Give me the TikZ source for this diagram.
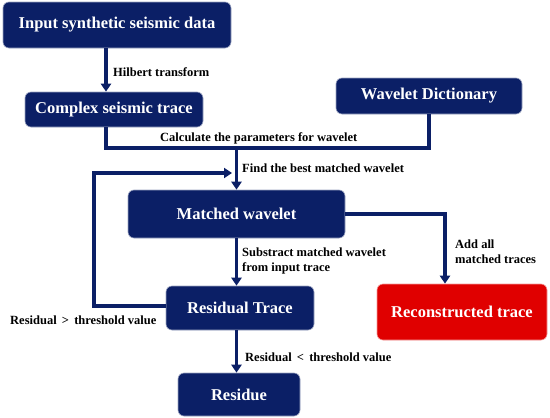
\documentclass[tikz,border=0pt]{standalone}
\usepackage{fontspec}
\setmainfont{Liberation Serif}
\usetikzlibrary{arrows.meta,positioning}
\definecolor{boxnavy}{HTML}{0B1F66}
\definecolor{boxred}{HTML}{E00000}

\begin{document}
\begin{tikzpicture}[x=1pt,y=-1pt,>={Triangle[width=10pt,length=8pt]},
  font=\bfseries,
  stepbox/.style={fill=boxnavy,draw=boxnavy!40,line width=0.6pt,rounded corners=6pt,
    text=white,font=\fontsize{16.5}{18}\selectfont\bfseries,inner sep=0pt},
  flow/.style={draw=boxnavy,line width=3.6pt},
  lbl/.style={font=\fontsize{12.5}{15}\selectfont\bfseries,align=left,inner sep=0pt}]
  \useasboundingbox (0,0) rectangle (550,418);

  % Boxes
  \node[stepbox,minimum width=228pt,minimum height=46pt] (input) at (117,25)
    {Input synthetic seismic data};
  \node[stepbox,minimum width=178pt,minimum height=35pt] (complex) at (114,109.5)
    {Complex seismic trace};
  \node[stepbox,minimum width=186pt,minimum height=36pt] (dict) at (429,96)
    {Wavelet Dictionary};
  \node[stepbox,minimum width=217pt,minimum height=48pt] (matched) at (236.5,214)
    {Matched wavelet};
  \node[stepbox,minimum width=148pt,minimum height=44pt] (residual) at (240,308)
    {Residual Trace};
  \node[stepbox,fill=boxred,draw=boxred!40,minimum width=170pt,minimum height=56pt]
    (recon) at (462,312) {Reconstructed trace};
  \node[stepbox,minimum width=122pt,minimum height=43pt] (residue) at (239,394.5)
    {Residue};

  % Junction points
  \coordinate (hx) at (106,0);
  \coordinate (calc) at (236.5,148);
  \coordinate (loopl) at (94,306);
  \coordinate (loopt) at (94,173);
  \coordinate (addx) at (445,0);

  % Connectors
  \draw[flow,->] (input.south -| hx) -- (complex.north -| hx);
  \draw[flow] (complex.south -| hx) |- (calc) -| (dict.south);
  \draw[flow,->] (calc) -- (matched.north -| calc);
  \draw[flow,->] (residual.west |- loopl) -- (loopl) -- (loopt) -- (232,173);
  \draw[flow,->] (matched.south) -- (matched.south |- residual.north);
  \draw[flow,->] (matched.east) -| (recon.north -| addx);
  \draw[flow,->] (residual.south -| matched.south) -- (residue.north -| matched.south);

  % Labels
  \node[lbl,anchor=west] (lhil) at (113,72) {Hilbert transform};
  \node[lbl,anchor=west] (lcalc) at (160,138) {Calculate the parameters for wavelet};
  \node[lbl,anchor=west] (lfind) at (242,168) {Find the best matched wavelet};
  \node[lbl,anchor=west] (lsub) at (242,261) {Substract matched wavelet\\from input trace};
  \node[lbl,anchor=west] (ladd) at (455,252) {Add all\\matched traces};
  \node[lbl,anchor=west] (lgt) at (10,320) {Residual \,>\, threshold value};
  \node[lbl,anchor=west] (llt) at (245,357) {Residual \,<\, threshold value};
\end{tikzpicture}
\end{document}
